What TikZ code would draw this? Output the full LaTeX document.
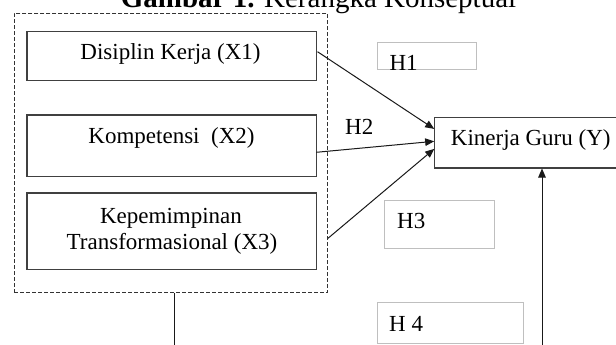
\documentclass[tikz,border=0pt]{standalone}
\usepackage{fontspec}
\setmainfont{Liberation Serif}
\usetikzlibrary{arrows.meta}
\newcommand\bodyfont{\fontsize{23}{26}\selectfont}
\newcommand\titlefont{\fontsize{29}{32}\selectfont}
\tikzset{
  varbox/.style={draw=black!75, line width=1.2pt, rectangle, inner sep=0pt, anchor=north west},
  hbox/.style={draw=black!25, line width=0.8pt, rectangle, inner sep=0pt, anchor=north west},
  grpbox/.style={draw=black!80, line width=1pt, dash pattern=on 4pt off 2pt, rectangle, inner sep=0pt, anchor=north west},
  lbl/.style={inner sep=0pt, font=\bodyfont, anchor=base},
  hlbl/.style={inner sep=0pt, font=\bodyfont, anchor=base west},
  conn/.style={draw=black!90, line width=1pt},
  arr/.style={conn, -{Triangle[length=9pt,width=7.5pt]}}
}
\begin{document}
\begin{tikzpicture}[x=1pt,y=-1pt]
\useasboundingbox (0,0) rectangle (616,345);
\clip (0,0) rectangle (616,345);
\fill[white] (0,0) rectangle (616,345);

% title
\node[inner sep=0pt, anchor=base, font=\titlefont] (title) at (318.5,7.5) {\textbf{Gambar 1.} Kerangka Konseptual};

% group box
\node[grpbox, minimum width=313.5pt, minimum height=279pt] (grp) at (13.8,12.7) {};

% variable boxes
\node[varbox, minimum width=289.2pt, minimum height=49.6pt] (x1) at (26.3,30.7) {};
\node[varbox, minimum width=289.2pt, minimum height=61.4pt] (x2) at (26.3,114.3) {};
\node[varbox, minimum width=289.2pt, minimum height=76.7pt] (x3) at (26.3,192.3) {};
\node[lbl] (x1t) at (170.5,59.3) {Disiplin Kerja (X1)};
\node[lbl] (x2t) at (171.5,143.3) {Kompetensi\ \ (X2)};
\node[lbl] (x3a) at (171,223.3) {Kepemimpinan};
\node[lbl] (x3b) at (172,249.3) {Transformasional (X3)};

% dependent variable
\node[varbox, minimum width=200pt, minimum height=50.6pt] (ky) at (434.2,116.7) {};
\node[lbl, anchor=base west] (kyt) at (450.7,145) {Kinerja Guru (Y)};

% hypothesis boxes
\node[hbox, minimum width=98.6pt, minimum height=27pt] (h1) at (377.2,42.3) {};
\node[hbox, minimum width=110.3pt, minimum height=48.3pt] (h3) at (384,200) {};
\node[hbox, minimum width=145.4pt, minimum height=41pt] (h4) at (377.2,301.7) {};
\node[hlbl] (h1t) at (389.3,70.5) {H1};
\node[hlbl] (h2t) at (345,134) {H2};
\node[hlbl] (h3t) at (397,228) {H3};
\node[hlbl] (h4t) at (389,331.5) {H 4};

% connectors
\coordinate (a1) at (317.5,51.7);
\coordinate (a2) at (316.3,152.3);
\coordinate (a3) at (328,238.3);
\draw[arr] (a1) -- ([yshift=13.7pt]ky.west);
\draw[arr] (a2) -- ([yshift=1.3pt]ky.west);
\draw[arr] (a3) -- ([yshift=-6.3pt]ky.west);

\coordinate (c1) at (174.5,350);
\coordinate (c2) at (542,350);
\draw[conn] (grp.south -| c1) -- (c1);
\draw[arr] (c2) -- (ky.south -| c2);
\end{tikzpicture}
\end{document}
